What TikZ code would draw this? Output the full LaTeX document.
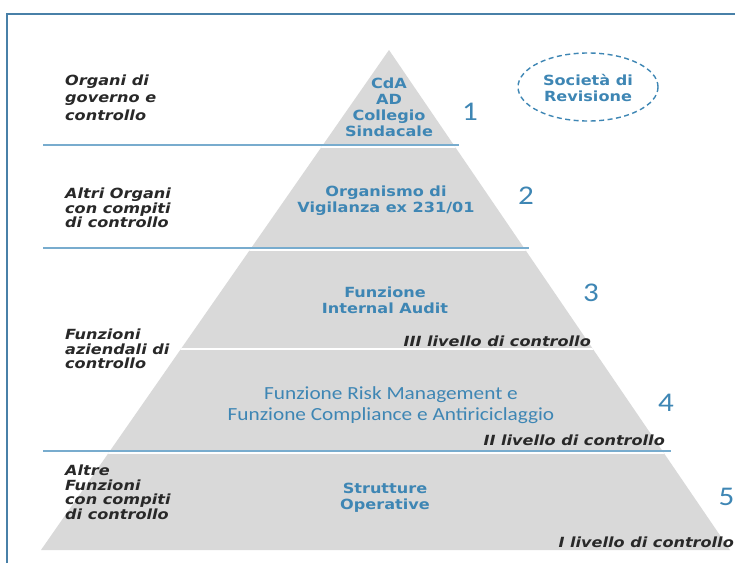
\documentclass[tikz,border=0pt]{standalone}
\usepackage{fontspec}
\usetikzlibrary{shapes.geometric}
\setmainfont[FakeStretch=1.15]{DejaVu Sans}
\newfontfamily\calib[FakeStretch=1.15]{Carlito}
\definecolor{txtblue}{RGB}{62,134,180}
\definecolor{lineblue}{RGB}{120,172,206}
\definecolor{frameblue}{RGB}{72,128,168}
\definecolor{pyrgray}{RGB}{217,217,217}
\definecolor{darktxt}{RGB}{40,40,40}
\tikzset{
  sidelabel/.style={font=\fontsize{14}{14.5}\selectfont\bfseries\itshape, text=darktxt, align=left, anchor=west, inner sep=0pt},
  levellabel/.style={font=\fontsize{14}{14}\selectfont\bfseries\itshape, text=darktxt, anchor=east, inner sep=0pt},
  boxtext/.style={font=\fontsize{14}{16}\selectfont\bfseries, text=txtblue, align=center, inner sep=0pt},
  calibtext/.style={font=\calib\fontsize{18.5}{21}\selectfont, text=txtblue, align=center, inner sep=0pt},
  numlabel/.style={font=\calib\fontsize{27}{27}\selectfont, text=txtblue, inner sep=0pt},
  sepline/.style={draw=lineblue, line width=1.6pt},
  whiteline/.style={draw=white, line width=2pt}
}
\begin{document}
\begin{tikzpicture}[x=1pt,y=-1pt]
\useasboundingbox (0,0) rectangle (735,563);
\fill[white] (0,0) rectangle (735,563);
% frame
\draw[frameblue, line width=1.6pt] (7,563) -- (7,14) -- (735,14);
% pyramid
\fill[pyrgray] (389,50) -- (730,550) -- (41,550) -- cycle;
% white gaps inside pyramid
\begin{scope}
\clip (389,50) -- (730,550) -- (41,550) -- cycle;
\draw[whiteline] (0,147) -- (735,147);
\draw[whiteline] (0,250) -- (735,250);
\draw[whiteline] (0,349) -- (735,349);
\draw[whiteline] (0,453) -- (735,453);
\end{scope}
% blue separator lines
\draw[sepline] (43,145) -- (459,145);
\draw[sepline] (43,248) -- (529,248);
\draw[sepline] (43,451) -- (671,451);
% side labels
\node[sidelabel, font=\fontsize{14}{17.5}\selectfont\bfseries\itshape] (s1) at (65,97.5) {Organi di\\governo e\\controllo};
\node[sidelabel] (s2) at (65,208) {Altri Organi\\con compiti\\di controllo};
\node[sidelabel] (s3) at (65,349) {Funzioni\\aziendali di\\controllo};
\node[sidelabel] (s4) at (65,492.5) {Altre\\Funzioni\\con compiti\\di controllo};
% pyramid texts
\node[boxtext] (t1) at (389,107) {CdA\\AD\\Collegio\\Sindacale};
\node[boxtext, font=\fontsize{14}{15.5}\selectfont\bfseries] (t2) at (386,200.5) {Organismo di\\Vigilanza ex 231/01};
\node[boxtext, font=\fontsize{14}{15.5}\selectfont\bfseries] (t3) at (385,300.5) {Funzione\\Internal Audit};
\node[calibtext] (t4) at (391,405) {Funzione Risk Management e\\Funzione Compliance e Antiriciclaggio};
\node[boxtext] (t5) at (385,498) {Strutture\\Operative};
% numbers
\node[numlabel] (n1) at (470,112) {1};
\node[numlabel] (n2) at (526,196) {2};
\node[numlabel] (n3) at (591,293) {3};
\node[numlabel] (n4) at (666,403) {4};
\node[numlabel, anchor=east] (n5) at (734.5,497) {5};
% level labels
\node[levellabel] (l3) at (591,341) {III livello di controllo};
\node[levellabel] (l2) at (665,440) {II livello di controllo};
\node[levellabel] (l1) at (734,542) {I livello di controllo};
% societa di revisione
\node[draw=txtblue, dash pattern=on 5pt off 3.5pt, line width=1.4pt, ellipse, minimum width=140pt, minimum height=68pt, inner sep=0pt] (rev) at (588,87) {};
\node[boxtext] (revt) at (588,88) {Società di\\Revisione};
\end{tikzpicture}
\end{document}
